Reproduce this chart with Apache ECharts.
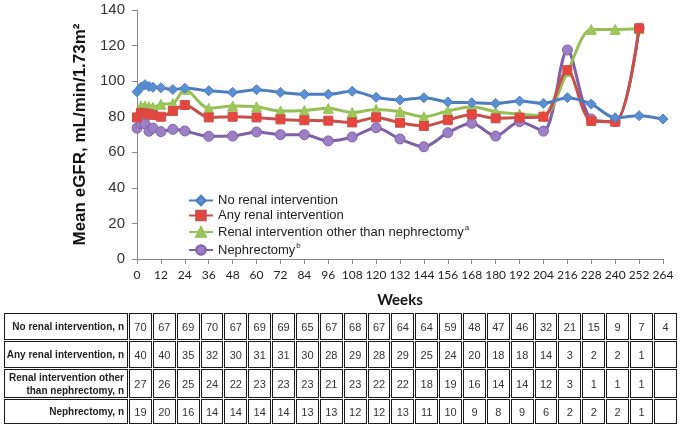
<!DOCTYPE html>
<html><head><meta charset="utf-8">
<script src="https://cdn.jsdelivr.net/npm/echarts@6/dist/echarts.min.js"></script>
<style>
html,body{margin:0;padding:0;background:#fff;width:680px;height:432px;overflow:hidden;}
#chart{position:absolute;left:0;top:0;width:680px;height:432px;}
#tbl{position:absolute;left:3px;top:312px;width:675px;table-layout:fixed;border-collapse:separate;border-spacing:1px;font-family:"Liberation Sans",Arial,sans-serif;}
#tbl td{border:1px solid #1a1a1a;text-align:center;font-size:11px;color:#333;padding:0;}
#tbl td.lab{text-align:right;font-weight:bold;font-size:10px;color:#222;padding-right:3px;line-height:13px;white-space:nowrap;}
</style></head>
<body>
<div id="chart"></div>
<table id="tbl"></table>
<script>
const weeks = [0,2,4,6,8,12,18,24,36,48,60,72,84,96,108,120,132,144,156,168,180,192,204,216,228,240,252,264];
const noRenal   = [94.0,96.5,98.0,97.0,96.5,96.3,95.3,96.0,94.6,93.7,95.2,93.7,92.6,92.6,94.3,90.9,89.4,90.7,88.3,87.9,87.5,88.8,87.5,90.7,87.1,79.4,80.6,78.7];
const anyRenal  = [79.6,82.2,81.9,81.5,80.9,80.0,83.2,86.6,79.6,80.0,79.6,78.5,78.0,77.8,76.8,79.6,76.6,74.8,78.1,81.3,79.1,79.5,80.0,106.2,77.6,77.2,129.7];
const otherRenal= [80.9,86.0,86.0,85.6,85.3,87.0,87.5,95.4,84.7,86.0,85.6,83.2,83.5,84.7,82.4,84.1,82.8,80.0,83.2,85.6,82.8,81.5,80.6,105.3,129.1,129.1,129.5];
const nephrect  = [73.6,76.3,76.0,71.8,73.6,71.6,72.9,72.0,69.0,69.1,71.4,69.9,69.9,66.4,68.6,73.8,67.5,63.1,71.0,76.3,69.1,77.2,71.9,117.5,78.7,77.2,129.7];

const seriesNames = ['No renal intervention','Any renal intervention','Renal intervention other than nephrectomy','Nephrectomy'];
const superscripts = ['', '', 'a', 'b'];

const tableWeeks = [0,12,24,36,48,60,72,84,96,108,120,132,144,156,168,180,192,204,216,228,240,252,264];
const rowLabels = ['No renal intervention, n','Any renal intervention, n','Renal intervention other<br>than nephrectomy, n','Nephrectomy, n'];
const nNoRenal = [70,67,69,70,67,69,69,65,67,68,67,64,64,59,48,47,46,32,21,15,9,7,4];
const nAny     = [40,40,35,32,30,31,31,30,28,29,28,29,25,24,20,18,18,14,3,2,2,1,''];
const nOther   = [27,26,25,24,22,23,23,23,21,23,22,22,18,19,16,14,14,12,3,1,1,1,''];
const nNeph    = [19,20,16,14,14,14,14,13,13,12,12,13,11,10,9,8,9,6,2,2,2,1,''];

// build table
const tbl = document.getElementById('tbl');
const rowsN = [nNoRenal, nAny, nOther, nNeph];
const rowH = [27, 27, 29, 25];
let html = '<colgroup><col style="width:124px">' + tableWeeks.map(()=>'<col>').join('') + '</colgroup>';
rowsN.forEach((r, i) => {
  html += '<tr style="height:' + rowH[i] + 'px"><td class="lab">' + rowLabels[i] + '</td>' + r.map(v => '<td>' + v + '</td>').join('') + '</tr>';
});
tbl.innerHTML = html;

const pair = arr => arr.map((v, i) => [weeks[i], v]);
const colors = ['#4a7ebf','#c8504b','#98bf56','#7f60a8'];
const markFill = ['#5a8fd4','#e8453f','#9dc95a','#9b80c6'];
const symbols = ['diamond','rect','triangle','circle'];
const sizes = [10, 9, 10, 10];
const datas = [noRenal, anyRenal, otherRenal, nephrect];

const chart = echarts.init(document.getElementById('chart'), null, {renderer:'canvas'});
chart.setOption({
  animation:false,
  grid:{left:137, right:17, top:10, bottom:173},
  legend:{
    orient:'vertical', left:183, top:189, itemWidth:24, itemHeight:12, itemGap:2,
    data: seriesNames,
    formatter: function(name){
      const i = seriesNames.indexOf(name);
      return superscripts[i] ? '{t|' + name + '}{s|' + superscripts[i] + '}' : '{t|' + name + '}';
    },
    textStyle:{
      color:'#222', fontFamily:'Liberation Sans, Arial', fontSize:13,
      rich:{ t:{fontSize:13, lineHeight:15, color:'#222', fontFamily:'Liberation Sans, Arial'}, s:{fontSize:8, lineHeight:15, color:'#222', padding:[0,0,8,1], fontFamily:'Liberation Sans, Arial'} }
    }
  },
  xAxis:{
    type:'value', min:0, max:264, interval:12,
    name:'Weeks', nameLocation:'middle', nameGap:34,
    nameTextStyle:{fontFamily:'Lato', fontWeight:'bold', fontSize:15, color:'#111'},
    axisLine:{lineStyle:{color:'#8a8a8a', width:1}},
    axisTick:{show:true, length:5, lineStyle:{color:'#8a8a8a'}},
    axisLabel:{fontFamily:'Lato', fontSize:12, color:'#222', margin:10, showMaxLabel:true, showMinLabel:true},
    splitLine:{show:false}
  },
  yAxis:{
    type:'value', min:0, max:140, interval:20,
    name:'Mean eGFR, mL/min/1.73m²', nameLocation:'middle', nameGap:46, nameRotate:90,
    nameTextStyle:{fontFamily:'Liberation Sans, Arial', fontWeight:'bold', fontSize:17, color:'#111'},
    axisLine:{show:true, lineStyle:{color:'#8a8a8a', width:1}},
    axisTick:{show:true, length:5, lineStyle:{color:'#8a8a8a'}},
    axisLabel:{fontFamily:'Liberation Sans, Arial', fontSize:15, color:'#333', margin:12},
    splitLine:{show:false}
  },
  series: datas.map((d, i) => ({
    name: seriesNames[i], type:'line', data: pair(d), smooth:0.3,
    symbol: symbols[i], symbolSize: sizes[i], z: 10 - i,
    lineStyle:{color:colors[i], width:3},
    itemStyle:{color:markFill[i], borderColor:colors[i], borderWidth:1}
  }))
});
</script>
</body></html>
